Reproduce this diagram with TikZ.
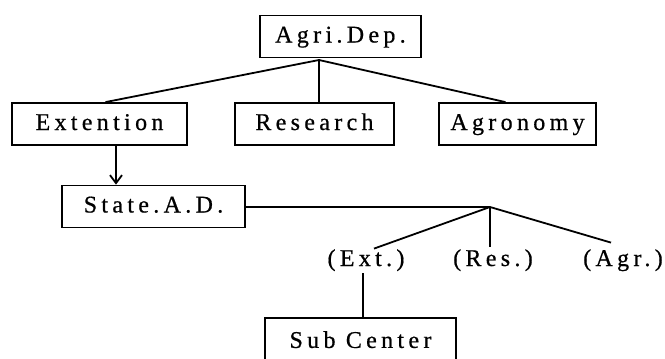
\documentclass[tikz,border=0pt]{standalone}
\usepackage{fontspec}
\setmainfont{Liberation Serif}[LetterSpace=18,FakeBold=0.6]
\usetikzlibrary{positioning,arrows.meta}

\begin{document}
\begin{tikzpicture}[
	x=0.5pt, y=-0.5pt,
	every node/.style={font=\fontsize{12}{14}\selectfont, text height=8.5pt, text depth=2.5pt},
	box/.style={draw, line width=0.9pt, minimum height=21pt, inner sep=0pt},
	tag/.style={inner sep=1pt},
	link/.style={line width=0.9pt},
	arrow/.style={-{Straight Barb[length=4pt,width=6pt]}, line width=0.9pt}
	]
	
	\useasboundingbox (0,0) rectangle (665,359);
	\clip (0,0) rectangle (665,359);
	
	\node[box, minimum width=80.5pt] (Agri) at (340.5,36.5) {Agri.Dep.};
	\node[box, minimum width=87.5pt] (Ext) at (99.5,124) {Extention};
	\node[box, minimum width=79.5pt] (Res) at (314.5,124) {Research};
	\node[box, minimum width=78.5pt] (Agro) at (517.5,124) {Agronomy};
	\node[box, minimum width=91.5pt] (State) at (153.5,206.5) {State.A.D.};
	\node[tag] (ExtS) at (366,260) {(Ext.)};
	\node[tag] (ResS) at (493,260) {(Res.)};
	\node[tag] (AgrS) at (623,260) {(Agr.)};
	\node[box, minimum width=95.5pt, minimum height=24pt, anchor=north] (Sub) at (360.5,317) {Sub Center};
	
	\coordinate (AgriRoot) at (319,60);
	\coordinate (StateRoot) at (490,207);
	
	\draw[link] (AgriRoot) -- ([xshift=3pt]Ext.north);
	\draw[link] (AgriRoot) -- (AgriRoot |- Res.north);
	\draw[link] (AgriRoot) -- ([xshift=-6pt]Agro.north);
	\draw[arrow] ([xshift=8.25pt]Ext.south) -- ([xshift=8.25pt]Ext.south |- State.north);
	
	\draw[link] (State.east |- StateRoot) -- (StateRoot);
	\draw[link] (StateRoot) -- ([xshift=4pt,yshift=-1pt]ExtS.north);
	\draw[link] (StateRoot) -- (StateRoot |- ResS.north);
	\draw[link] (StateRoot) -- ([xshift=-6pt,yshift=2pt]AgrS.north);
	\draw[link] ([xshift=-1.5pt]ExtS.south) -- ([xshift=-1.5pt]ExtS.south |- Sub.north);
	
\end{tikzpicture}
\end{document}
